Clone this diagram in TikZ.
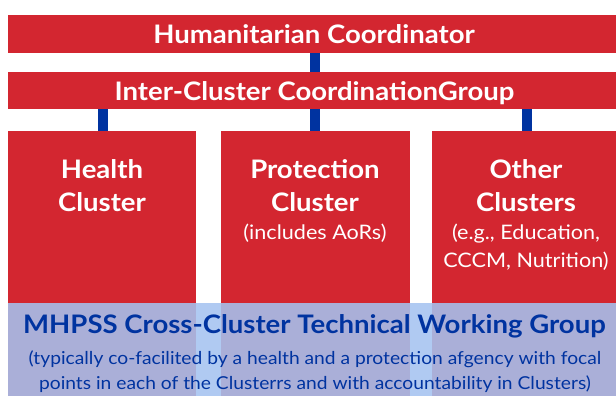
\documentclass[tikz,border=0pt]{standalone}
\usepackage{fontspec}
\setmainfont{Lato}[FakeStretch=1.08]
\definecolor{ured}{RGB}{211,38,48}
\definecolor{ublue}{RGB}{0,51,160}
\definecolor{lblue}{RGB}{165,195,240}
\begin{document}
\begin{tikzpicture}[x=1pt,y=1pt,
  box/.style={fill=ured,draw=none,inner sep=0pt,outer sep=0pt},
  link/.style={draw=ublue,line width=10pt},
  band/.style={fill=lblue,fill opacity=0.88,draw=none,inner sep=0pt,outer sep=0pt},
  head/.style={text=white,font=\fontsize{25.5}{33}\selectfont\bfseries,inner sep=0pt},
  sub/.style={text=white,font=\fontsize{20}{28}\selectfont,inner sep=0pt},
  bhead/.style={text=ublue,font=\fontsize{25.5}{30}\selectfont\bfseries,inner sep=0pt},
  bsub/.style={text=ublue,font=\fontsize{17.8}{22}\selectfont,inner sep=0pt}]
\useasboundingbox (0,0) rectangle (616,396);
% boxes
\node[box,minimum width=608,minimum height=38] (hc) at (312,362) {};
\node[box,minimum width=608,minimum height=37] (icg) at (312,305.5) {};
\node[box,minimum width=188,minimum height=265] (health) at (102,132.5) {};
\node[box,minimum width=189,minimum height=265] (prot) at (315.5,132.5) {};
\node[box,minimum width=184,minimum height=265] (other) at (524,132.5) {};
% connectors
\draw[link] ([xshift=3pt]hc.south) -- ([xshift=3pt]icg.north);
\draw[link] ([xshift=0.5pt]health.north) -- ([xshift=0.5pt]health.north |- icg.south);
\draw[link] ([xshift=-0.5pt]prot.north) -- ([xshift=-0.5pt]prot.north |- icg.south);
\draw[link] ([xshift=2.5pt]other.north) -- ([xshift=2.5pt]other.north |- icg.south);
% texts
\node[head,anchor=base] (hct) at (314,352.5) {Humanitarian Coordinator};
\node[head,anchor=base] (icgt) at (314.5,295.3) {Inter-Cluster CoordinationGroup};
\node[head,anchor=base] (healtht1) at (102,217) {Health};
\node[head,anchor=base] (healtht2) at (102,184) {Cluster};
\node[head,anchor=base] (prott1) at (315,217) {Protection};
\node[head,anchor=base] (prott2) at (315,184) {Cluster};
\node[sub,anchor=base] (prots) at (315,156) {(includes AoRs)};
\node[head,anchor=base] (othert1) at (526,217) {Other};
\node[head,anchor=base] (othert2) at (526,184) {Clusters};
\node[sub,anchor=base] (others1) at (526,156) {(e.g., Education,};
\node[sub,anchor=base] (others2) at (526,128) {CCCM, Nutrition)};
% band
\node[band,minimum width=608,minimum height=93] (tw) at (312,46.5) {};
\node[bhead,anchor=base] (twt) at (314.5,62) {MHPSS Cross-Cluster Technical Working Group};
\node[bsub,anchor=base] (tws1) at (315,31) {(typically co-facilited by a health and a protection afgency with focal};
\node[bsub,anchor=base] (tws2) at (315,6) {points in each of the Clusterrs and with accountability in Clusters)};
\end{tikzpicture}
\end{document}
